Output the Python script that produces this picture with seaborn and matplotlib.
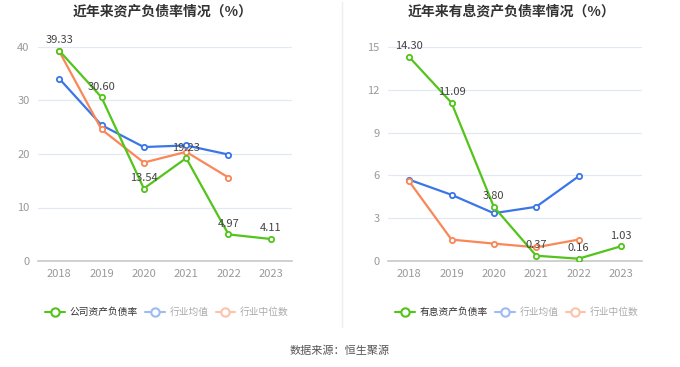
import matplotlib
matplotlib.use("Agg")
import matplotlib.pyplot as plt
from matplotlib.lines import Line2D
import seaborn as sns
import pandas as pd

years = ["2018", "2019", "2020", "2021", "2022", "2023"]

# Left chart: 资产负债率
company_debt = [39.33, 30.60, 13.54, 19.23, 4.97, 4.11]
industry_avg = [34.1, 25.4, 21.3, 21.6, 19.9, None]
industry_median = [39.2, 24.6, 18.4, 20.4, 15.6, None]

# Right chart: 有息资产负债率
interest_debt = [14.30, 11.09, 3.80, 0.37, 0.16, 1.03]
interest_avg = [5.70, 4.64, 3.35, 3.80, 5.93, None]
interest_median = [5.58, 1.50, 1.22, 0.96, 1.50, None]

left_title = "近年来资产负债率情况（%）"
right_title = "近年来有息资产负债率情况（%）"
left_names = ["公司资产负债率", "行业均值", "行业中位数"]
right_names = ["有息资产负债率", "行业均值", "行业中位数"]
source_text = "数据来源：恒生聚源"

sns.set_theme(style="white")
plt.rcParams["font.family"] = ["Noto Sans CJK SC", "DejaVu Sans"]

GREEN = "#52c41a"
BLUE = "#3b76e8"
ORANGE = "#fa8757"
LBLUE = "#9dbaf3"
LORANGE = "#fcc3ab"

W, H = 680, 367
fig = plt.figure(figsize=(W / 100, H / 100), dpi=100)


def make_axes(x0, x1, ytop, ybot):
    return fig.add_axes([x0 / W, 1 - ybot / H, (x1 - x0) / W, (ybot - ytop) / H])


def draw(ax, main, avg, med, yticks, ymax):
    idx = list(range(len(years)))
    for vals, col in [(avg, BLUE), (med, ORANGE), (main, GREEN)]:
        df = pd.DataFrame({"x": idx, "y": vals}).dropna()
        sns.lineplot(data=df, x="x", y="y", ax=ax, color=col, linewidth=1.6,
                     marker="o", markersize=3.8, markerfacecolor="white",
                     markeredgecolor=col, markeredgewidth=1.3, zorder=3)
    for i, v in enumerate(main):
        ax.annotate(f"{v:.2f}", (i, v), xytext=(0, 4), textcoords="offset points",
                    ha="center", va="bottom", fontsize=8, color="#444444", zorder=5)
    ax.set_xlim(-0.5, len(years) - 0.5)
    ax.set_ylim(0, ymax)
    ax.set_xticks(idx)
    ax.set_xticklabels(years)
    ax.set_yticks(yticks)
    ax.set_yticklabels([str(t) for t in yticks])
    ax.tick_params(axis="both", labelsize=8, colors="#999999", length=0, pad=6)
    ax.yaxis.grid(True, color="#e3e8f5", linewidth=0.9)
    ax.xaxis.grid(False)
    for s in ["top", "right", "left"]:
        ax.spines[s].set_visible(False)
    ax.spines["bottom"].set_color("#c8c8c8")
    ax.spines["bottom"].set_linewidth(1.2)
    ax.set_xlabel("")
    ax.set_ylabel("")
    ax.set_axisbelow(True)
    ax.patch.set_alpha(0)


ax1 = make_axes(38, 292, 47, 261)
draw(ax1, company_debt, industry_avg, industry_median, [0, 10, 20, 30, 40], 40)
ax2 = make_axes(388, 642, 47, 261)
draw(ax2, interest_debt, interest_avg, interest_median, [0, 3, 6, 9, 12, 15], 15)

fig.text(163 / W, 1 - 12 / H, left_title, ha="center", va="center",
         fontsize=10, fontweight="bold", color="#333333")
fig.text(512 / W, 1 - 12 / H, right_title, ha="center", va="center",
         fontsize=10, fontweight="bold", color="#333333")

# divider
fig.add_artist(Line2D([342 / W, 342 / W], [1 - 2 / H, 1 - 327 / H],
                      transform=fig.transFigure, color="#eeeeee", linewidth=1))


def legend(cx, names):
    handles = [
        Line2D([], [], color=GREEN, marker="o", markersize=6, markerfacecolor="white",
               markeredgecolor=GREEN, markeredgewidth=1.5, linewidth=1.5),
        Line2D([], [], color=LBLUE, marker="o", markersize=6, markerfacecolor="white",
               markeredgecolor=LBLUE, markeredgewidth=1.5, linewidth=1.5),
        Line2D([], [], color=LORANGE, marker="o", markersize=6, markerfacecolor="white",
               markeredgecolor=LORANGE, markeredgewidth=1.5, linewidth=1.5),
    ]
    leg = fig.legend(handles, names, loc="center", bbox_to_anchor=(cx / W, 1 - 312 / H),
                     ncol=3, frameon=False, fontsize=7, handlelength=2.0,
                     handletextpad=0.5, columnspacing=0.75, borderaxespad=0,
                     borderpad=0)
    cols = ["#333333", "#aaaaaa", "#aaaaaa"]
    for t, c in zip(leg.get_texts(), cols):
        t.set_color(c)


legend(167, left_names)
legend(517, right_names)

fig.text(340 / W, 1 - 351 / H, source_text, ha="center", va="center",
         fontsize=8, color="#555555")

fig.savefig("out.png", dpi=100)
